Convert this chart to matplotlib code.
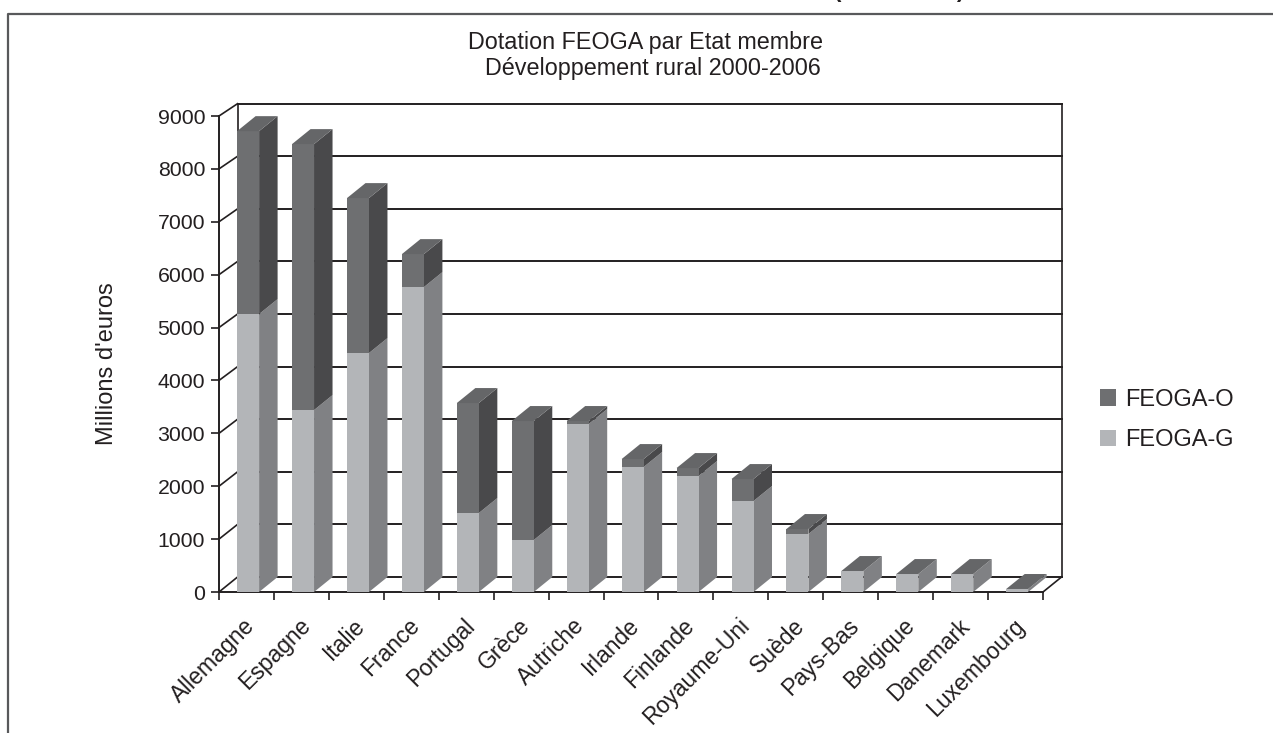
import matplotlib
matplotlib.use("Agg")
import matplotlib.pyplot as plt
import numpy as np
from matplotlib.patches import Patch, Polygon
from matplotlib.transforms import ScaledTranslation

plt.rcParams['font.family'] = ['Liberation Sans', 'DejaVu Sans']

countries = ["Allemagne", "Espagne", "Italie", "France", "Portugal", "Grèce", "Autriche", "Irlande",
             "Finlande", "Royaume-Uni", "Suède", "Pays-Bas", "Belgique", "Danemark", "Luxembourg"]
feoga_g = [5255, 3440, 4518, 5765, 1493, 983, 3176, 2363, 2193, 1720, 1096, 397, 340, 340, 57]
feoga_o = [3459, 5029, 2930, 624, 2080, 2250, 57, 151, 151, 416, 95, 0, 0, 0, 0]
yticks = [0, 1000, 2000, 3000, 4000, 5000, 6000, 7000, 8000, 9000]

TEXT = '#231f20'
G_FRONT, G_SIDE = '#b3b5b8', '#808184'
O_FRONT, O_SIDE, O_TOP = '#6e6f71', '#49494b', '#656668'

W, H = 1273, 733
fig = plt.figure(figsize=(W / 100, H / 100), dpi=100)
# front plane of the fake 3d box, in pixels: x 219-1043, y 116-592
ax = fig.add_axes([219 / W, 1 - 592 / H, (1043 - 219) / W, (592 - 116) / H])
ax.set_xlim(0, 15)
ax.set_ylim(0, 9000)
for s in ('top', 'right'):
    ax.spines[s].set_visible(False)
for s in ('left', 'bottom'):
    ax.spines[s].set_color(TEXT)
    ax.spines[s].set_linewidth(1.4)
    ax.spines[s].set_zorder(1)

# depth of the box in data units
dx = 18.5 / 54.93
depth = 283
back_scale = 0.9944
bar_w = 0.4
bar_off = 0.33

# back wall, floor and grid
for v in yticks:
    back = v * back_scale + depth
    ax.plot([0, dx], [v, back], color=TEXT, lw=1.2, clip_on=False, zorder=1)
    ax.plot([dx, 15 + dx], [back, back], color=TEXT, lw=1.4, clip_on=False, zorder=1)
top_back = 9000 * back_scale + depth
ax.plot([dx, dx], [depth, top_back], color=TEXT, lw=1.2, clip_on=False, zorder=1)
ax.plot([15 + dx, 15 + dx], [depth, top_back], color=TEXT, lw=1.2, clip_on=False, zorder=1)
ax.plot([15, 15 + dx], [0, depth], color=TEXT, lw=1.2, clip_on=False, zorder=1)


def box(x0, base, height, front, side, top=None):
    x1 = x0 + bar_w
    ax.add_patch(Polygon([(x1, base), (x1 + dx, base + depth), (x1 + dx, base + height + depth), (x1, base + height)],
                         fc=side, ec='none', clip_on=False, zorder=3))
    if height > 0:
        ax.bar(x0, height, bar_w, bottom=base, align='edge', color=front, clip_on=False, zorder=3)
    if top:
        t = base + height
        ax.add_patch(Polygon([(x0, t), (x0 + dx, t + depth), (x1 + dx, t + depth), (x1, t)],
                             fc=top, ec='none', clip_on=False, zorder=3))


for i in range(len(countries)):
    x0 = i + bar_off
    box(x0, 0, feoga_g[i], G_FRONT, G_SIDE)
    box(x0, feoga_g[i], feoga_o[i], O_FRONT, O_SIDE, O_TOP)

ax.set_yticks(yticks)
ax.tick_params(axis='y', length=6, width=1.2, color=TEXT, labelsize=15.3, labelcolor=TEXT, pad=4)
ax.set_xticks(np.arange(16))
ax.set_xticklabels([])
ax.tick_params(axis='x', which='major', length=6, width=1.2, color=TEXT)
ax.set_xticks(np.arange(15) + 0.5, minor=True)
ax.set_xticklabels(countries, minor=True, rotation=45, ha='right', rotation_mode='anchor', fontsize=16.5, color=TEXT)
ax.tick_params(axis='x', which='minor', length=0, pad=16)
shift = ScaledTranslation(-3 / 100, 0, fig.dpi_scale_trans)
for lab in ax.get_xticklabels(minor=True):
    lab.set_transform(lab.get_transform() + shift)

ax.set_ylabel("Millions d'euros", fontsize=17, color=TEXT)
ax.yaxis.set_label_coords((118 - 219) / (1043 - 219), (592 - 364) / (592 - 116))

fig.text(646 / W, 1 - 42 / H, "Dotation FEOGA par Etat membre", ha='center', va='center', fontsize=16.8, color=TEXT)
fig.text(653 / W, 1 - 68 / H, "Développement rural 2000-2006", ha='center', va='center', fontsize=16.8, color=TEXT)

handles = [Patch(fc=O_FRONT, ec='none', label='FEOGA-O'), Patch(fc=G_FRONT, ec='none', label='FEOGA-G')]
fig.legend(handles=handles, loc='center left', bbox_to_anchor=(1100 / W, 1 - 420 / H), frameon=False, fontsize=17,
           borderaxespad=0, borderpad=0, handlelength=0.68, handleheight=0.68, handletextpad=0.4, labelspacing=0.79,
           labelcolor=TEXT)

# frame of the page around the chart
fig.add_artist(plt.Line2D([8 / W, 8 / W, 1], [0, 1 - 14 / H, 1 - 14 / H], color='#58595b', lw=1.6))

# bottom of the parentheses of the page heading, cut off by the crop
fig.text(838 / W, 1 - 2 / H, "(", ha='center', va='bottom', fontsize=16, fontweight='bold', color=TEXT)
fig.text(960 / W, 1 - 2 / H, ")", ha='center', va='bottom', fontsize=16, fontweight='bold', color=TEXT)

fig.savefig("out.png", dpi=100)
